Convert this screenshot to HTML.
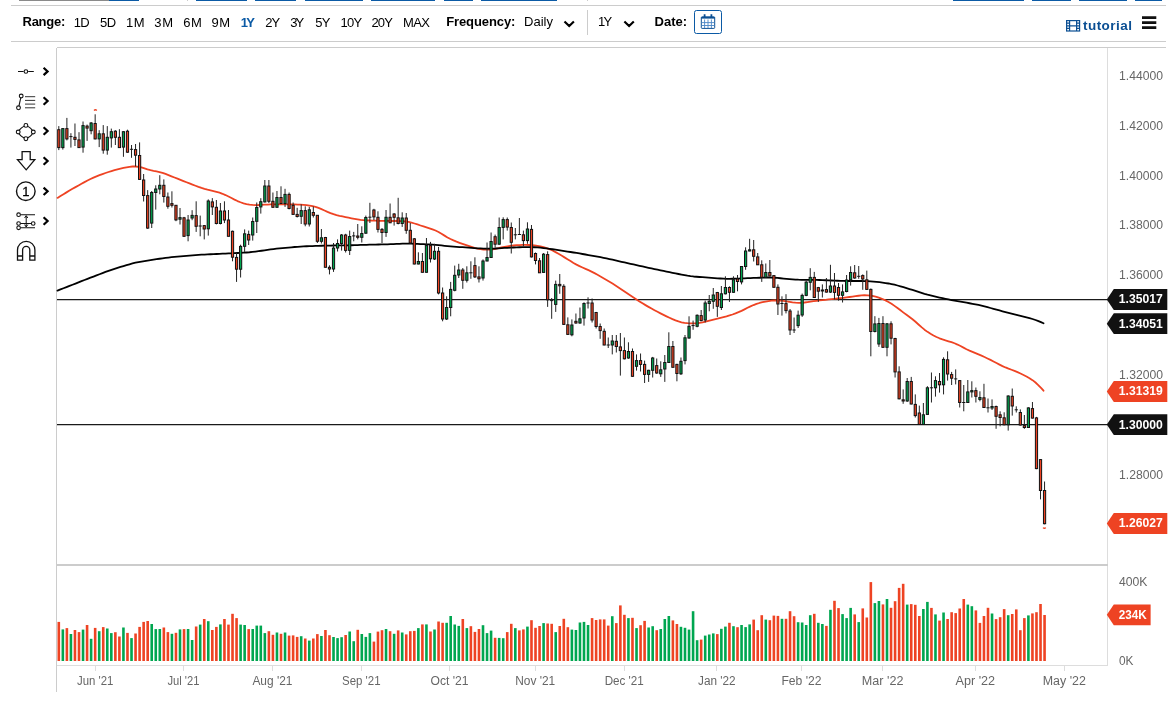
<!DOCTYPE html>
<html lang="en"><head><meta charset="utf-8"><title>Chart</title>
<style>
html,body{margin:0;padding:0;background:#fff;}
body{width:1176px;height:704px;position:relative;overflow:hidden;font-family:"Liberation Sans",sans-serif;font-size:13px;color:#000;}
.t{position:absolute;top:14px;line-height:16px;white-space:nowrap;}
.b{font-weight:bold;}
.s{position:absolute;top:0;height:1px;}
.hl{position:absolute;height:1px;background:#ccc;left:11px;width:1155px;}
</style></head><body>
<div class="s" style="left:19px;width:90px;background:#8a8a8a"></div><div class="s" style="left:109px;width:30px;background:#0b5aa5"></div>
<div class="s" style="left:196px;width:51px;background:#0b5aa5"></div>
<div class="s" style="left:255px;width:41px;background:#0b5aa5"></div>
<div class="s" style="left:305px;width:58px;background:#0b5aa5"></div>
<div class="s" style="left:371px;width:64px;background:#0b5aa5"></div>
<div class="s" style="left:444px;width:29px;background:#0b5aa5"></div>
<div class="s" style="left:481px;width:76px;background:#0b5aa5"></div>
<div class="s" style="left:953px;width:71px;background:#0b5aa5"></div>
<div class="s" style="left:1032px;width:39px;background:#0b5aa5"></div>
<div class="s" style="left:1079px;width:48px;background:#0b5aa5"></div>
<div class="s" style="left:1135px;width:27px;background:#0b5aa5"></div>
<div class="hl" style="top:5px"></div><div class="hl" style="top:41px"></div>
<span class="t b" style="left:22.5px;top:14px;letter-spacing:-0.25px;">Range:</span>
<span class="t" style="left:73.8px;top:15px;letter-spacing:-0.7px;">1D</span>
<span class="t" style="left:100px;top:15px;letter-spacing:-0.6px;">5D</span>
<span class="t" style="left:126px;top:15px;letter-spacing:0.5px;">1M</span>
<span class="t" style="left:154.3px;top:15px;letter-spacing:0.6px;">3M</span>
<span class="t" style="left:183.2px;top:15px;letter-spacing:0.5px;">6M</span>
<span class="t" style="left:211.4px;top:15px;letter-spacing:0.6px;">9M</span>
<span class="t b" style="left:240.8px;top:15px;letter-spacing:-1.7px;color:#0b5aa5;">1Y</span>
<span class="t" style="left:265.3px;top:15px;letter-spacing:-1.0px;">2Y</span>
<span class="t" style="left:290.3px;top:15px;letter-spacing:-2.0px;">3Y</span>
<span class="t" style="left:315.3px;top:15px;letter-spacing:-0.85px;">5Y</span>
<span class="t" style="left:340.5px;top:15px;letter-spacing:-0.77px;">10Y</span>
<span class="t" style="left:371.4px;top:15px;letter-spacing:-0.85px;">20Y</span>
<span class="t" style="left:403px;top:15px;letter-spacing:-0.68px;">MAX</span>
<span class="t b" style="left:446.2px;top:14px;letter-spacing:-0.1px;">Frequency:</span>
<span class="t" style="left:524.1px;top:14px;">Daily</span>
<span class="t" style="left:597.9px;top:14px;letter-spacing:-1.6px;">1Y</span>
<span class="t b" style="left:654.6px;top:14px;">Date:</span>
<span class="t b" style="left:1083px;top:18px;color:#0b4f93;font-size:13.5px;letter-spacing:0.45px">tutorial</span>
<svg width="1176" height="44" viewBox="0 0 1176 44" style="position:absolute;left:0;top:0">
<path d="M587.5,10 V35 M587.5,0 V1 M187.5,0 V1" stroke="#ccc" stroke-width="1" shape-rendering="crispEdges"/>
<path d="M564.5,21.5 L569.2,26 L573.9,21.5 M624.4,21.5 L629.1,26 L633.8,21.5" fill="none" stroke="#000" stroke-width="2.2"/>
<rect x="694.5" y="10.5" width="27" height="23" rx="2" fill="#fff" stroke="#0b5aa5" stroke-width="1"/>
<g stroke="#0b4f93" fill="none" stroke-width="1"><rect x="701.3" y="16.8" width="13.4" height="11.6" rx="0.8"/><path d="M701.3,17.8 H714.7" stroke-width="1.6"/><path d="M704.6,19.5 V28 M708,19.5 V28 M711.4,19.5 V28 M701.5,22.6 H714.5 M701.5,25.5 H714.5" stroke="#4a86c5" stroke-width="0.9"/><path d="M704.6,14.3 V17.3 M711.4,14.3 V17.3" stroke-width="1.8"/></g>
<g stroke="#0b4f93" fill="none" stroke-width="1.2"><rect x="1066.6" y="20.6" width="13" height="10.4"/><path d="M1069.6,20.6 V31 M1076.6,20.6 V31 M1069.6,25.8 H1076.6 M1066.6,23.2 H1069.6 M1066.6,25.8 H1069.6 M1066.6,28.4 H1069.6 M1076.6,23.2 H1079.6 M1076.6,25.8 H1079.6 M1076.6,28.4 H1079.6"/></g>
<path d="M1142,17.6 H1156.3 M1142,22.6 H1156.3 M1142,27.6 H1156.3" stroke="#111" stroke-width="2.6"/>
</svg>
<svg width="1176" height="704" viewBox="0 0 1176 704" style="position:absolute;left:0;top:0">
<g fill="none" stroke="#cccccc" stroke-width="1" shape-rendering="crispEdges">
<path d="M56.5,47.5 H1166"/>
<path d="M1107.5,48 V666" stroke="#dddddd"/>
<path d="M56.5,47.5 V692"/>
<path d="M56,565 H1108" stroke-width="2"/>
<path d="M57,665.5 H1108" stroke="#dddddd"/>
<path d="M95.5,666 V670.5" stroke="#dddddd"/>
<path d="M183.5,666 V670.5" stroke="#dddddd"/>
<path d="M272.5,666 V670.5" stroke="#dddddd"/>
<path d="M361.5,666 V670.5" stroke="#dddddd"/>
<path d="M449.5,666 V670.5" stroke="#dddddd"/>
<path d="M535.5,666 V670.5" stroke="#dddddd"/>
<path d="M624.5,666 V670.5" stroke="#dddddd"/>
<path d="M716.5,666 V670.5" stroke="#dddddd"/>
<path d="M801.5,666 V670.5" stroke="#dddddd"/>
<path d="M882.5,666 V670.5" stroke="#dddddd"/>
<path d="M975.5,666 V670.5" stroke="#dddddd"/>
<path d="M1064.5,666 V670.5" stroke="#dddddd"/>
</g>
<g>
<rect x="57.50" y="621.9" width="2.6" height="39.1" fill="#ee4323"/>
<rect x="61.54" y="629.4" width="2.6" height="31.6" fill="#00a650"/>
<rect x="65.58" y="628.1" width="2.6" height="32.9" fill="#ee4323"/>
<rect x="69.62" y="634.0" width="2.6" height="27.0" fill="#00a650"/>
<rect x="73.66" y="630.0" width="2.6" height="31.0" fill="#ee4323"/>
<rect x="77.70" y="632.1" width="2.6" height="28.9" fill="#ee4323"/>
<rect x="81.74" y="629.6" width="2.6" height="31.4" fill="#00a650"/>
<rect x="85.78" y="625.0" width="2.6" height="36.0" fill="#ee4323"/>
<rect x="89.82" y="638.8" width="2.6" height="22.2" fill="#00a650"/>
<rect x="93.86" y="627.9" width="2.6" height="33.1" fill="#ee4323"/>
<rect x="97.90" y="631.2" width="2.6" height="29.8" fill="#00a650"/>
<rect x="101.94" y="627.1" width="2.6" height="33.9" fill="#ee4323"/>
<rect x="105.98" y="628.5" width="2.6" height="32.5" fill="#00a650"/>
<rect x="110.02" y="633.1" width="2.6" height="27.9" fill="#00a650"/>
<rect x="114.06" y="632.2" width="2.6" height="28.8" fill="#ee4323"/>
<rect x="118.10" y="636.5" width="2.6" height="24.5" fill="#ee4323"/>
<rect x="122.14" y="627.5" width="2.6" height="33.5" fill="#00a650"/>
<rect x="126.18" y="632.9" width="2.6" height="28.1" fill="#ee4323"/>
<rect x="130.22" y="638.1" width="2.6" height="22.9" fill="#00a650"/>
<rect x="134.26" y="633.5" width="2.6" height="27.5" fill="#ee4323"/>
<rect x="138.30" y="626.9" width="2.6" height="34.1" fill="#ee4323"/>
<rect x="142.34" y="621.9" width="2.6" height="39.1" fill="#ee4323"/>
<rect x="146.38" y="621.0" width="2.6" height="40.0" fill="#ee4323"/>
<rect x="150.42" y="624.0" width="2.6" height="37.0" fill="#00a650"/>
<rect x="154.46" y="629.1" width="2.6" height="31.9" fill="#00a650"/>
<rect x="158.50" y="629.0" width="2.6" height="32.0" fill="#00a650"/>
<rect x="162.54" y="627.5" width="2.6" height="33.5" fill="#ee4323"/>
<rect x="166.58" y="632.1" width="2.6" height="28.9" fill="#ee4323"/>
<rect x="170.62" y="633.8" width="2.6" height="27.2" fill="#00a650"/>
<rect x="174.66" y="632.8" width="2.6" height="28.2" fill="#ee4323"/>
<rect x="178.70" y="629.4" width="2.6" height="31.6" fill="#00a650"/>
<rect x="182.74" y="629.1" width="2.6" height="31.9" fill="#ee4323"/>
<rect x="186.78" y="629.0" width="2.6" height="32.0" fill="#00a650"/>
<rect x="190.82" y="640.0" width="2.6" height="21.0" fill="#00a650"/>
<rect x="194.86" y="626.5" width="2.6" height="34.5" fill="#ee4323"/>
<rect x="198.90" y="624.6" width="2.6" height="36.4" fill="#00a650"/>
<rect x="202.94" y="619.0" width="2.6" height="42.0" fill="#ee4323"/>
<rect x="206.98" y="621.2" width="2.6" height="39.8" fill="#00a650"/>
<rect x="211.02" y="630.0" width="2.6" height="31.0" fill="#ee4323"/>
<rect x="215.06" y="626.9" width="2.6" height="34.1" fill="#ee4323"/>
<rect x="219.10" y="624.4" width="2.6" height="36.6" fill="#00a650"/>
<rect x="223.14" y="619.0" width="2.6" height="42.0" fill="#ee4323"/>
<rect x="227.18" y="624.6" width="2.6" height="36.4" fill="#ee4323"/>
<rect x="231.22" y="613.8" width="2.6" height="47.2" fill="#ee4323"/>
<rect x="235.26" y="618.1" width="2.6" height="42.9" fill="#ee4323"/>
<rect x="239.30" y="624.6" width="2.6" height="36.4" fill="#00a650"/>
<rect x="243.34" y="625.0" width="2.6" height="36.0" fill="#00a650"/>
<rect x="247.38" y="629.1" width="2.6" height="31.9" fill="#ee4323"/>
<rect x="251.42" y="629.0" width="2.6" height="32.0" fill="#00a650"/>
<rect x="255.46" y="625.6" width="2.6" height="35.4" fill="#00a650"/>
<rect x="259.50" y="625.6" width="2.6" height="35.4" fill="#00a650"/>
<rect x="263.54" y="633.1" width="2.6" height="27.9" fill="#00a650"/>
<rect x="267.58" y="631.2" width="2.6" height="29.8" fill="#ee4323"/>
<rect x="271.62" y="634.8" width="2.6" height="26.2" fill="#ee4323"/>
<rect x="275.66" y="632.5" width="2.6" height="28.5" fill="#00a650"/>
<rect x="279.70" y="633.8" width="2.6" height="27.2" fill="#ee4323"/>
<rect x="283.74" y="632.5" width="2.6" height="28.5" fill="#00a650"/>
<rect x="287.78" y="635.6" width="2.6" height="25.4" fill="#ee4323"/>
<rect x="291.82" y="635.4" width="2.6" height="25.6" fill="#ee4323"/>
<rect x="295.86" y="636.9" width="2.6" height="24.1" fill="#ee4323"/>
<rect x="299.90" y="636.2" width="2.6" height="24.8" fill="#00a650"/>
<rect x="303.94" y="638.5" width="2.6" height="22.5" fill="#ee4323"/>
<rect x="307.98" y="640.6" width="2.6" height="20.4" fill="#00a650"/>
<rect x="312.02" y="638.5" width="2.6" height="22.5" fill="#ee4323"/>
<rect x="316.06" y="634.1" width="2.6" height="26.9" fill="#ee4323"/>
<rect x="320.10" y="636.0" width="2.6" height="25.0" fill="#00a650"/>
<rect x="324.14" y="630.0" width="2.6" height="31.0" fill="#ee4323"/>
<rect x="328.18" y="635.2" width="2.6" height="25.8" fill="#ee4323"/>
<rect x="332.22" y="637.0" width="2.6" height="24.0" fill="#00a650"/>
<rect x="336.26" y="638.1" width="2.6" height="22.9" fill="#00a650"/>
<rect x="340.30" y="637.2" width="2.6" height="23.8" fill="#00a650"/>
<rect x="344.34" y="635.0" width="2.6" height="26.0" fill="#ee4323"/>
<rect x="348.38" y="631.5" width="2.6" height="29.5" fill="#00a650"/>
<rect x="352.42" y="641.2" width="2.6" height="19.8" fill="#00a650"/>
<rect x="356.46" y="629.8" width="2.6" height="31.2" fill="#ee4323"/>
<rect x="360.50" y="634.0" width="2.6" height="27.0" fill="#00a650"/>
<rect x="364.54" y="636.9" width="2.6" height="24.1" fill="#00a650"/>
<rect x="368.58" y="633.1" width="2.6" height="27.9" fill="#00a650"/>
<rect x="372.62" y="641.6" width="2.6" height="19.4" fill="#ee4323"/>
<rect x="376.66" y="631.6" width="2.6" height="29.4" fill="#ee4323"/>
<rect x="380.70" y="630.2" width="2.6" height="30.8" fill="#ee4323"/>
<rect x="384.74" y="629.0" width="2.6" height="32.0" fill="#00a650"/>
<rect x="388.78" y="631.2" width="2.6" height="29.8" fill="#ee4323"/>
<rect x="392.82" y="633.8" width="2.6" height="27.2" fill="#00a650"/>
<rect x="396.86" y="630.4" width="2.6" height="30.6" fill="#ee4323"/>
<rect x="400.90" y="632.5" width="2.6" height="28.5" fill="#00a650"/>
<rect x="404.94" y="634.4" width="2.6" height="26.6" fill="#ee4323"/>
<rect x="408.98" y="631.2" width="2.6" height="29.8" fill="#ee4323"/>
<rect x="413.02" y="630.9" width="2.6" height="30.1" fill="#ee4323"/>
<rect x="417.06" y="628.1" width="2.6" height="32.9" fill="#00a650"/>
<rect x="421.10" y="624.4" width="2.6" height="36.6" fill="#ee4323"/>
<rect x="425.14" y="624.4" width="2.6" height="36.6" fill="#00a650"/>
<rect x="429.18" y="631.5" width="2.6" height="29.5" fill="#ee4323"/>
<rect x="433.22" y="629.5" width="2.6" height="31.5" fill="#00a650"/>
<rect x="437.26" y="621.5" width="2.6" height="39.5" fill="#ee4323"/>
<rect x="441.30" y="622.8" width="2.6" height="38.2" fill="#ee4323"/>
<rect x="445.34" y="622.8" width="2.6" height="38.2" fill="#00a650"/>
<rect x="449.38" y="616.0" width="2.6" height="45.0" fill="#00a650"/>
<rect x="453.42" y="624.5" width="2.6" height="36.5" fill="#00a650"/>
<rect x="457.46" y="625.9" width="2.6" height="35.1" fill="#00a650"/>
<rect x="461.50" y="619.0" width="2.6" height="42.0" fill="#ee4323"/>
<rect x="465.54" y="628.1" width="2.6" height="32.9" fill="#00a650"/>
<rect x="469.58" y="626.2" width="2.6" height="34.8" fill="#ee4323"/>
<rect x="473.62" y="631.9" width="2.6" height="29.1" fill="#ee4323"/>
<rect x="477.66" y="629.0" width="2.6" height="32.0" fill="#ee4323"/>
<rect x="481.70" y="625.2" width="2.6" height="35.8" fill="#00a650"/>
<rect x="485.74" y="633.1" width="2.6" height="27.9" fill="#00a650"/>
<rect x="489.78" y="630.6" width="2.6" height="30.4" fill="#00a650"/>
<rect x="493.82" y="637.8" width="2.6" height="23.2" fill="#ee4323"/>
<rect x="497.86" y="637.9" width="2.6" height="23.1" fill="#00a650"/>
<rect x="501.90" y="638.2" width="2.6" height="22.8" fill="#00a650"/>
<rect x="505.94" y="632.1" width="2.6" height="28.9" fill="#ee4323"/>
<rect x="509.98" y="623.8" width="2.6" height="37.2" fill="#ee4323"/>
<rect x="514.02" y="628.1" width="2.6" height="32.9" fill="#00a650"/>
<rect x="518.06" y="630.4" width="2.6" height="30.6" fill="#ee4323"/>
<rect x="522.10" y="629.4" width="2.6" height="31.6" fill="#ee4323"/>
<rect x="526.14" y="626.6" width="2.6" height="34.4" fill="#00a650"/>
<rect x="530.18" y="620.2" width="2.6" height="40.8" fill="#ee4323"/>
<rect x="534.22" y="627.8" width="2.6" height="33.2" fill="#ee4323"/>
<rect x="538.26" y="626.0" width="2.6" height="35.0" fill="#ee4323"/>
<rect x="542.30" y="623.1" width="2.6" height="37.9" fill="#00a650"/>
<rect x="546.34" y="623.5" width="2.6" height="37.5" fill="#ee4323"/>
<rect x="550.38" y="623.8" width="2.6" height="37.2" fill="#ee4323"/>
<rect x="554.42" y="632.1" width="2.6" height="28.9" fill="#00a650"/>
<rect x="558.46" y="626.0" width="2.6" height="35.0" fill="#ee4323"/>
<rect x="562.50" y="618.8" width="2.6" height="42.2" fill="#ee4323"/>
<rect x="566.54" y="627.2" width="2.6" height="33.8" fill="#ee4323"/>
<rect x="570.58" y="629.6" width="2.6" height="31.4" fill="#00a650"/>
<rect x="574.62" y="630.0" width="2.6" height="31.0" fill="#00a650"/>
<rect x="578.66" y="622.5" width="2.6" height="38.5" fill="#00a650"/>
<rect x="582.70" y="621.9" width="2.6" height="39.1" fill="#00a650"/>
<rect x="586.74" y="625.0" width="2.6" height="36.0" fill="#00a650"/>
<rect x="590.78" y="618.1" width="2.6" height="42.9" fill="#ee4323"/>
<rect x="594.82" y="620.0" width="2.6" height="41.0" fill="#ee4323"/>
<rect x="598.86" y="619.4" width="2.6" height="41.6" fill="#ee4323"/>
<rect x="602.90" y="619.4" width="2.6" height="41.6" fill="#ee4323"/>
<rect x="606.94" y="625.6" width="2.6" height="35.4" fill="#ee4323"/>
<rect x="610.98" y="616.2" width="2.6" height="44.8" fill="#00a650"/>
<rect x="615.02" y="623.1" width="2.6" height="37.9" fill="#ee4323"/>
<rect x="619.06" y="605.4" width="2.6" height="55.6" fill="#ee4323"/>
<rect x="623.10" y="614.8" width="2.6" height="46.2" fill="#ee4323"/>
<rect x="627.14" y="618.1" width="2.6" height="42.9" fill="#00a650"/>
<rect x="631.18" y="617.8" width="2.6" height="43.2" fill="#ee4323"/>
<rect x="635.22" y="628.1" width="2.6" height="32.9" fill="#00a650"/>
<rect x="639.26" y="625.2" width="2.6" height="35.8" fill="#ee4323"/>
<rect x="643.30" y="620.9" width="2.6" height="40.1" fill="#ee4323"/>
<rect x="647.34" y="627.5" width="2.6" height="33.5" fill="#00a650"/>
<rect x="651.38" y="626.2" width="2.6" height="34.8" fill="#00a650"/>
<rect x="655.42" y="630.2" width="2.6" height="30.8" fill="#ee4323"/>
<rect x="659.46" y="629.0" width="2.6" height="32.0" fill="#00a650"/>
<rect x="663.50" y="619.0" width="2.6" height="42.0" fill="#00a650"/>
<rect x="667.54" y="616.0" width="2.6" height="45.0" fill="#00a650"/>
<rect x="671.58" y="620.4" width="2.6" height="40.6" fill="#ee4323"/>
<rect x="675.62" y="624.0" width="2.6" height="37.0" fill="#ee4323"/>
<rect x="679.66" y="626.8" width="2.6" height="34.2" fill="#00a650"/>
<rect x="683.70" y="627.8" width="2.6" height="33.2" fill="#00a650"/>
<rect x="687.74" y="629.6" width="2.6" height="31.4" fill="#00a650"/>
<rect x="691.78" y="611.2" width="2.6" height="49.8" fill="#00a650"/>
<rect x="695.82" y="640.2" width="2.6" height="20.8" fill="#00a650"/>
<rect x="699.86" y="639.6" width="2.6" height="21.4" fill="#ee4323"/>
<rect x="703.90" y="635.6" width="2.6" height="25.4" fill="#00a650"/>
<rect x="707.94" y="634.5" width="2.6" height="26.5" fill="#00a650"/>
<rect x="711.98" y="633.4" width="2.6" height="27.6" fill="#00a650"/>
<rect x="716.02" y="634.1" width="2.6" height="26.9" fill="#ee4323"/>
<rect x="720.06" y="628.8" width="2.6" height="32.2" fill="#00a650"/>
<rect x="724.10" y="626.6" width="2.6" height="34.4" fill="#00a650"/>
<rect x="728.14" y="622.8" width="2.6" height="38.2" fill="#ee4323"/>
<rect x="732.18" y="626.2" width="2.6" height="34.8" fill="#00a650"/>
<rect x="736.22" y="627.2" width="2.6" height="33.8" fill="#ee4323"/>
<rect x="740.26" y="625.0" width="2.6" height="36.0" fill="#00a650"/>
<rect x="744.30" y="627.1" width="2.6" height="33.9" fill="#00a650"/>
<rect x="748.34" y="624.4" width="2.6" height="36.6" fill="#00a650"/>
<rect x="752.38" y="619.6" width="2.6" height="41.4" fill="#ee4323"/>
<rect x="756.42" y="630.2" width="2.6" height="30.8" fill="#ee4323"/>
<rect x="760.46" y="615.2" width="2.6" height="45.8" fill="#ee4323"/>
<rect x="764.50" y="619.6" width="2.6" height="41.4" fill="#00a650"/>
<rect x="768.54" y="620.2" width="2.6" height="40.8" fill="#ee4323"/>
<rect x="772.58" y="615.6" width="2.6" height="45.4" fill="#ee4323"/>
<rect x="776.62" y="615.9" width="2.6" height="45.1" fill="#ee4323"/>
<rect x="780.66" y="618.8" width="2.6" height="42.2" fill="#00a650"/>
<rect x="784.70" y="618.8" width="2.6" height="42.2" fill="#ee4323"/>
<rect x="788.74" y="611.2" width="2.6" height="49.8" fill="#ee4323"/>
<rect x="792.78" y="616.2" width="2.6" height="44.8" fill="#ee4323"/>
<rect x="796.82" y="622.2" width="2.6" height="38.8" fill="#00a650"/>
<rect x="800.86" y="622.5" width="2.6" height="38.5" fill="#00a650"/>
<rect x="804.90" y="625.0" width="2.6" height="36.0" fill="#00a650"/>
<rect x="808.94" y="615.2" width="2.6" height="45.8" fill="#00a650"/>
<rect x="812.98" y="613.8" width="2.6" height="47.2" fill="#ee4323"/>
<rect x="817.02" y="622.8" width="2.6" height="38.2" fill="#00a650"/>
<rect x="821.06" y="624.0" width="2.6" height="37.0" fill="#00a650"/>
<rect x="825.10" y="625.9" width="2.6" height="35.1" fill="#ee4323"/>
<rect x="829.14" y="609.8" width="2.6" height="51.2" fill="#00a650"/>
<rect x="833.18" y="600.8" width="2.6" height="60.2" fill="#ee4323"/>
<rect x="837.22" y="608.1" width="2.6" height="52.9" fill="#ee4323"/>
<rect x="841.26" y="614.1" width="2.6" height="46.9" fill="#00a650"/>
<rect x="845.30" y="618.1" width="2.6" height="42.9" fill="#00a650"/>
<rect x="849.34" y="607.9" width="2.6" height="53.1" fill="#00a650"/>
<rect x="853.38" y="614.4" width="2.6" height="46.6" fill="#ee4323"/>
<rect x="857.42" y="622.1" width="2.6" height="38.9" fill="#00a650"/>
<rect x="861.46" y="608.4" width="2.6" height="52.6" fill="#ee4323"/>
<rect x="865.50" y="617.5" width="2.6" height="43.5" fill="#ee4323"/>
<rect x="869.54" y="582.1" width="2.6" height="78.9" fill="#ee4323"/>
<rect x="873.58" y="603.1" width="2.6" height="57.9" fill="#00a650"/>
<rect x="877.62" y="601.0" width="2.6" height="60.0" fill="#00a650"/>
<rect x="881.66" y="604.4" width="2.6" height="56.6" fill="#ee4323"/>
<rect x="885.70" y="599.0" width="2.6" height="62.0" fill="#00a650"/>
<rect x="889.74" y="607.8" width="2.6" height="53.2" fill="#ee4323"/>
<rect x="893.78" y="601.2" width="2.6" height="59.8" fill="#ee4323"/>
<rect x="897.82" y="587.9" width="2.6" height="73.1" fill="#ee4323"/>
<rect x="901.86" y="583.8" width="2.6" height="77.2" fill="#ee4323"/>
<rect x="905.90" y="604.6" width="2.6" height="56.4" fill="#00a650"/>
<rect x="909.94" y="604.1" width="2.6" height="56.9" fill="#ee4323"/>
<rect x="913.98" y="604.8" width="2.6" height="56.2" fill="#ee4323"/>
<rect x="918.02" y="616.0" width="2.6" height="45.0" fill="#ee4323"/>
<rect x="922.06" y="609.0" width="2.6" height="52.0" fill="#00a650"/>
<rect x="926.10" y="601.9" width="2.6" height="59.1" fill="#00a650"/>
<rect x="930.14" y="607.9" width="2.6" height="53.1" fill="#ee4323"/>
<rect x="934.18" y="614.4" width="2.6" height="46.6" fill="#00a650"/>
<rect x="938.22" y="620.6" width="2.6" height="40.4" fill="#ee4323"/>
<rect x="942.26" y="612.5" width="2.6" height="48.5" fill="#00a650"/>
<rect x="946.30" y="619.0" width="2.6" height="42.0" fill="#ee4323"/>
<rect x="950.34" y="612.2" width="2.6" height="48.8" fill="#ee4323"/>
<rect x="954.38" y="613.1" width="2.6" height="47.9" fill="#ee4323"/>
<rect x="958.42" y="608.5" width="2.6" height="52.5" fill="#ee4323"/>
<rect x="962.46" y="599.0" width="2.6" height="62.0" fill="#ee4323"/>
<rect x="966.50" y="604.6" width="2.6" height="56.4" fill="#00a650"/>
<rect x="970.54" y="606.2" width="2.6" height="54.8" fill="#00a650"/>
<rect x="974.58" y="610.4" width="2.6" height="50.6" fill="#ee4323"/>
<rect x="978.62" y="622.9" width="2.6" height="38.1" fill="#ee4323"/>
<rect x="982.66" y="616.0" width="2.6" height="45.0" fill="#ee4323"/>
<rect x="986.70" y="607.8" width="2.6" height="53.2" fill="#ee4323"/>
<rect x="990.74" y="613.5" width="2.6" height="47.5" fill="#00a650"/>
<rect x="994.78" y="619.1" width="2.6" height="41.9" fill="#ee4323"/>
<rect x="998.82" y="617.2" width="2.6" height="43.8" fill="#ee4323"/>
<rect x="1002.86" y="609.1" width="2.6" height="51.9" fill="#ee4323"/>
<rect x="1006.90" y="615.2" width="2.6" height="45.8" fill="#00a650"/>
<rect x="1010.94" y="614.0" width="2.6" height="47.0" fill="#ee4323"/>
<rect x="1014.98" y="609.4" width="2.6" height="51.6" fill="#ee4323"/>
<rect x="1019.02" y="630.2" width="2.6" height="30.8" fill="#ee4323"/>
<rect x="1023.06" y="618.1" width="2.6" height="42.9" fill="#ee4323"/>
<rect x="1027.10" y="615.4" width="2.6" height="45.6" fill="#00a650"/>
<rect x="1031.14" y="613.4" width="2.6" height="47.6" fill="#ee4323"/>
<rect x="1035.18" y="612.2" width="2.6" height="48.8" fill="#ee4323"/>
<rect x="1039.22" y="604.0" width="2.6" height="57.0" fill="#ee4323"/>
<rect x="1043.26" y="615.0" width="2.6" height="46.0" fill="#ee4323"/>
</g>
<g stroke="#1a1a1a" stroke-width="1.25">
<path d="M57,299.65 H1110"/>
<path d="M57,424.7 H1110"/>
</g>
<path d="M57.5,197.90 L60.5,196.05 L63.5,194.21 L66.5,192.38 L69.5,190.58 L72.5,188.83 L75.5,187.12 L78.5,185.45 L81.5,183.80 L84.5,182.15 L87.5,180.55 L90.5,179.03 L93.5,177.63 L96.5,176.36 L99.5,175.18 L102.5,174.07 L105.5,173.00 L108.5,171.98 L111.5,171.02 L114.5,170.14 L117.5,169.32 L120.5,168.58 L123.5,167.90 L126.5,167.31 L129.5,166.83 L132.5,166.52 L135.5,166.48 L138.5,166.79 L141.5,167.44 L144.5,168.34 L147.5,169.29 L150.5,170.12 L153.5,170.81 L156.5,171.42 L159.5,172.09 L162.5,172.94 L165.5,173.96 L168.5,175.10 L171.5,176.29 L174.5,177.48 L177.5,178.67 L180.5,179.86 L183.5,181.05 L186.5,182.23 L189.5,183.41 L192.5,184.58 L195.5,185.74 L198.5,186.86 L201.5,187.90 L204.5,188.83 L207.5,189.64 L210.5,190.37 L213.5,191.08 L216.5,191.84 L219.5,192.72 L222.5,193.78 L225.5,195.05 L228.5,196.50 L231.5,198.06 L234.5,199.61 L237.5,201.05 L240.5,202.27 L243.5,203.28 L246.5,204.06 L249.5,204.61 L252.5,204.94 L255.5,205.04 L258.5,204.99 L261.5,204.85 L264.5,204.69 L267.5,204.56 L270.5,204.47 L273.5,204.42 L276.5,204.40 L279.5,204.40 L282.5,204.40 L285.5,204.41 L288.5,204.42 L291.5,204.44 L294.5,204.47 L297.5,204.55 L300.5,204.67 L303.5,204.86 L306.5,205.13 L309.5,205.52 L312.5,206.09 L315.5,206.88 L318.5,207.89 L321.5,209.10 L324.5,210.45 L327.5,211.81 L330.5,213.08 L333.5,214.16 L336.5,215.05 L339.5,215.80 L342.5,216.46 L345.5,217.08 L348.5,217.68 L351.5,218.26 L354.5,218.82 L357.5,219.33 L360.5,219.78 L363.5,220.12 L366.5,220.36 L369.5,220.51 L372.5,220.61 L375.5,220.71 L378.5,220.80 L381.5,220.87 L384.5,220.94 L387.5,220.97 L390.5,220.99 L393.5,221.00 L396.5,221.02 L399.5,221.07 L402.5,221.21 L405.5,221.48 L408.5,221.95 L411.5,222.64 L414.5,223.50 L417.5,224.47 L420.5,225.48 L423.5,226.45 L426.5,227.38 L429.5,228.31 L432.5,229.32 L435.5,230.53 L438.5,232.02 L441.5,233.76 L444.5,235.63 L447.5,237.43 L450.5,239.03 L453.5,240.43 L456.5,241.66 L459.5,242.80 L462.5,243.89 L465.5,244.93 L468.5,245.94 L471.5,246.91 L474.5,247.82 L477.5,248.61 L480.5,249.22 L483.5,249.58 L486.5,249.70 L489.5,249.58 L492.5,249.27 L495.5,248.79 L498.5,248.17 L501.5,247.50 L504.5,246.85 L507.5,246.29 L510.5,245.83 L513.5,245.48 L516.5,245.22 L519.5,245.04 L522.5,244.94 L525.5,244.93 L528.5,245.00 L531.5,245.16 L534.5,245.43 L537.5,245.83 L540.5,246.37 L543.5,247.10 L546.5,248.04 L549.5,249.19 L552.5,250.55 L555.5,252.09 L558.5,253.77 L561.5,255.53 L564.5,257.36 L567.5,259.23 L570.5,261.10 L573.5,262.92 L576.5,264.63 L579.5,266.16 L582.5,267.54 L585.5,268.85 L588.5,270.18 L591.5,271.61 L594.5,273.14 L597.5,274.76 L600.5,276.44 L603.5,278.17 L606.5,279.92 L609.5,281.72 L612.5,283.58 L615.5,285.49 L618.5,287.48 L621.5,289.51 L624.5,291.56 L627.5,293.59 L630.5,295.61 L633.5,297.59 L636.5,299.55 L639.5,301.47 L642.5,303.34 L645.5,305.14 L648.5,306.89 L651.5,308.57 L654.5,310.21 L657.5,311.81 L660.5,313.35 L663.5,314.86 L666.5,316.32 L669.5,317.74 L672.5,319.10 L675.5,320.36 L678.5,321.43 L681.5,322.26 L684.5,322.83 L687.5,323.18 L690.5,323.34 L693.5,323.36 L696.5,323.24 L699.5,322.93 L702.5,322.42 L705.5,321.71 L708.5,320.90 L711.5,320.09 L714.5,319.32 L717.5,318.60 L720.5,317.90 L723.5,317.16 L726.5,316.36 L729.5,315.47 L732.5,314.49 L735.5,313.40 L738.5,312.19 L741.5,310.84 L744.5,309.35 L747.5,307.82 L750.5,306.36 L753.5,305.05 L756.5,303.94 L759.5,302.99 L762.5,302.20 L765.5,301.55 L768.5,301.05 L771.5,300.69 L774.5,300.49 L777.5,300.47 L780.5,300.63 L783.5,300.96 L786.5,301.40 L789.5,301.89 L792.5,302.36 L795.5,302.72 L798.5,302.87 L801.5,302.78 L804.5,302.49 L807.5,302.09 L810.5,301.65 L813.5,301.22 L816.5,300.81 L819.5,300.44 L822.5,300.09 L825.5,299.77 L828.5,299.46 L831.5,299.14 L834.5,298.83 L837.5,298.51 L840.5,298.17 L843.5,297.80 L846.5,297.41 L849.5,296.99 L852.5,296.56 L855.5,296.14 L858.5,295.74 L861.5,295.42 L864.5,295.25 L867.5,295.31 L870.5,295.61 L873.5,296.16 L876.5,296.93 L879.5,297.90 L882.5,299.05 L885.5,300.40 L888.5,301.98 L891.5,303.81 L894.5,305.87 L897.5,308.07 L900.5,310.34 L903.5,312.60 L906.5,314.80 L909.5,317.01 L912.5,319.30 L915.5,321.79 L918.5,324.47 L921.5,327.16 L924.5,329.66 L927.5,331.86 L930.5,333.76 L933.5,335.44 L936.5,336.96 L939.5,338.29 L942.5,339.43 L945.5,340.40 L948.5,341.28 L951.5,342.20 L954.5,343.26 L957.5,344.56 L960.5,346.06 L963.5,347.65 L966.5,349.20 L969.5,350.62 L972.5,351.92 L975.5,353.15 L978.5,354.40 L981.5,355.69 L984.5,357.04 L987.5,358.45 L990.5,359.91 L993.5,361.44 L996.5,363.02 L999.5,364.59 L1002.5,366.10 L1005.5,367.46 L1008.5,368.65 L1011.5,369.75 L1014.5,370.85 L1017.5,372.09 L1020.5,373.48 L1023.5,374.96 L1026.5,376.52 L1029.5,378.20 L1032.5,380.16 L1035.5,382.51 L1038.5,385.29 L1041.5,388.47 L1043.5,390.72" fill="none" stroke="#ee4323" stroke-width="1.8" stroke-linejoin="round" stroke-linecap="round"/>
<path d="M57.5,290.60 L60.5,289.42 L63.5,288.25 L66.5,287.07 L69.5,285.90 L72.5,284.72 L75.5,283.55 L78.5,282.37 L81.5,281.20 L84.5,280.03 L87.5,278.87 L90.5,277.70 L93.5,276.54 L96.5,275.38 L99.5,274.22 L102.5,273.06 L105.5,271.93 L108.5,270.84 L111.5,269.81 L114.5,268.83 L117.5,267.90 L120.5,266.98 L123.5,266.06 L126.5,265.15 L129.5,264.27 L132.5,263.44 L135.5,262.71 L138.5,262.09 L141.5,261.55 L144.5,261.07 L147.5,260.60 L150.5,260.14 L153.5,259.68 L156.5,259.22 L159.5,258.76 L162.5,258.32 L165.5,257.91 L168.5,257.55 L171.5,257.23 L174.5,256.95 L177.5,256.68 L180.5,256.42 L183.5,256.16 L186.5,255.89 L189.5,255.63 L192.5,255.37 L195.5,255.13 L198.5,254.91 L201.5,254.72 L204.5,254.55 L207.5,254.40 L210.5,254.26 L213.5,254.12 L216.5,253.98 L219.5,253.84 L222.5,253.70 L225.5,253.56 L228.5,253.42 L231.5,253.28 L234.5,253.13 L237.5,252.99 L240.5,252.85 L243.5,252.70 L246.5,252.51 L249.5,252.27 L252.5,251.96 L255.5,251.59 L258.5,251.17 L261.5,250.74 L264.5,250.31 L267.5,249.88 L270.5,249.47 L273.5,249.08 L276.5,248.72 L279.5,248.41 L282.5,248.11 L285.5,247.83 L288.5,247.56 L291.5,247.28 L294.5,247.02 L297.5,246.78 L300.5,246.57 L303.5,246.41 L306.5,246.27 L309.5,246.16 L312.5,246.05 L315.5,245.94 L318.5,245.84 L321.5,245.74 L324.5,245.66 L327.5,245.59 L330.5,245.54 L333.5,245.50 L336.5,245.46 L339.5,245.43 L342.5,245.39 L345.5,245.35 L348.5,245.29 L351.5,245.23 L354.5,245.15 L357.5,245.06 L360.5,244.97 L363.5,244.87 L366.5,244.78 L369.5,244.69 L372.5,244.62 L375.5,244.56 L378.5,244.50 L381.5,244.44 L384.5,244.37 L387.5,244.28 L390.5,244.17 L393.5,244.06 L396.5,243.94 L399.5,243.82 L402.5,243.72 L405.5,243.67 L408.5,243.66 L411.5,243.72 L414.5,243.83 L417.5,243.96 L420.5,244.09 L423.5,244.21 L426.5,244.33 L429.5,244.45 L432.5,244.61 L435.5,244.83 L438.5,245.13 L441.5,245.48 L444.5,245.85 L447.5,246.19 L450.5,246.47 L453.5,246.69 L456.5,246.87 L459.5,247.04 L462.5,247.22 L465.5,247.43 L468.5,247.65 L471.5,247.88 L474.5,248.10 L477.5,248.29 L480.5,248.45 L483.5,248.56 L486.5,248.62 L489.5,248.64 L492.5,248.61 L495.5,248.52 L498.5,248.36 L501.5,248.17 L504.5,247.97 L507.5,247.78 L510.5,247.63 L513.5,247.49 L516.5,247.36 L519.5,247.24 L522.5,247.14 L525.5,247.07 L528.5,247.07 L531.5,247.14 L534.5,247.26 L537.5,247.45 L540.5,247.71 L543.5,248.03 L546.5,248.40 L549.5,248.81 L552.5,249.24 L555.5,249.68 L558.5,250.14 L561.5,250.60 L564.5,251.07 L567.5,251.54 L570.5,252.01 L573.5,252.49 L576.5,252.97 L579.5,253.47 L582.5,253.99 L585.5,254.51 L588.5,255.04 L591.5,255.56 L594.5,256.09 L597.5,256.63 L600.5,257.20 L603.5,257.79 L606.5,258.42 L609.5,259.07 L612.5,259.74 L615.5,260.41 L618.5,261.08 L621.5,261.76 L624.5,262.43 L627.5,263.11 L630.5,263.80 L633.5,264.48 L636.5,265.16 L639.5,265.83 L642.5,266.49 L645.5,267.15 L648.5,267.80 L651.5,268.45 L654.5,269.10 L657.5,269.74 L660.5,270.37 L663.5,270.99 L666.5,271.60 L669.5,272.20 L672.5,272.80 L675.5,273.40 L678.5,274.00 L681.5,274.60 L684.5,275.17 L687.5,275.69 L690.5,276.13 L693.5,276.48 L696.5,276.75 L699.5,276.98 L702.5,277.20 L705.5,277.42 L708.5,277.63 L711.5,277.85 L714.5,278.06 L717.5,278.28 L720.5,278.49 L723.5,278.66 L726.5,278.78 L729.5,278.81 L732.5,278.77 L735.5,278.68 L738.5,278.56 L741.5,278.44 L744.5,278.32 L747.5,278.20 L750.5,278.08 L753.5,277.97 L756.5,277.85 L759.5,277.74 L762.5,277.62 L765.5,277.54 L768.5,277.51 L771.5,277.57 L774.5,277.73 L777.5,277.97 L780.5,278.25 L783.5,278.55 L786.5,278.85 L789.5,279.14 L792.5,279.39 L795.5,279.59 L798.5,279.72 L801.5,279.78 L804.5,279.80 L807.5,279.80 L810.5,279.82 L813.5,279.85 L816.5,279.92 L819.5,280.01 L822.5,280.13 L825.5,280.26 L828.5,280.39 L831.5,280.52 L834.5,280.65 L837.5,280.77 L840.5,280.87 L843.5,280.94 L846.5,280.98 L849.5,281.00 L852.5,281.00 L855.5,281.00 L858.5,281.00 L861.5,281.02 L864.5,281.07 L867.5,281.17 L870.5,281.35 L873.5,281.60 L876.5,281.89 L879.5,282.23 L882.5,282.60 L885.5,283.02 L888.5,283.49 L891.5,284.06 L894.5,284.73 L897.5,285.50 L900.5,286.34 L903.5,287.21 L906.5,288.10 L909.5,289.02 L912.5,289.96 L915.5,290.94 L918.5,291.93 L921.5,292.92 L924.5,293.86 L927.5,294.72 L930.5,295.49 L933.5,296.20 L936.5,296.86 L939.5,297.52 L942.5,298.17 L945.5,298.81 L948.5,299.43 L951.5,300.02 L954.5,300.58 L957.5,301.12 L960.5,301.66 L963.5,302.19 L966.5,302.72 L969.5,303.25 L972.5,303.78 L975.5,304.34 L978.5,304.95 L981.5,305.63 L984.5,306.38 L987.5,307.18 L990.5,308.00 L993.5,308.83 L996.5,309.66 L999.5,310.48 L1002.5,311.28 L1005.5,312.07 L1008.5,312.83 L1011.5,313.58 L1014.5,314.32 L1017.5,315.06 L1020.5,315.80 L1023.5,316.55 L1026.5,317.31 L1029.5,318.11 L1032.5,318.99 L1035.5,319.98 L1038.5,321.11 L1041.5,322.39 L1043.5,323.29" fill="none" stroke="#000" stroke-width="1.8" stroke-linejoin="round" stroke-linecap="round"/>
<g stroke="#111" stroke-width="1">
<path d="M58.80,126.1 V150.1" stroke="#222"/>
<rect x="57.70" y="129.7" width="2.2" height="17.9" fill="#ee4323"/>
<path d="M62.84,128.1 V149.6" stroke="#222"/>
<rect x="61.74" y="128.6" width="2.2" height="19.0" fill="#00a650"/>
<path d="M66.88,117.9 V140.4" stroke="#222"/>
<rect x="65.78" y="128.6" width="2.2" height="10.3" fill="#ee4323"/>
<path d="M70.92,133.2 V147.6" stroke="#222"/>
<path d="M69.32,136.6 H72.52"/>
<path d="M74.96,123.5 V146.0" stroke="#222"/>
<rect x="73.86" y="137.3" width="2.2" height="2.1" fill="#ee4323"/>
<path d="M79.00,132.2 V147.6" stroke="#222"/>
<rect x="77.90" y="139.9" width="2.2" height="7.7" fill="#ee4323"/>
<path d="M83.04,121.5 V152.7" stroke="#222"/>
<rect x="81.94" y="125.6" width="2.2" height="21.5" fill="#00a650"/>
<path d="M87.08,124.6 V140.9" stroke="#222"/>
<rect x="85.98" y="126.1" width="2.2" height="2.0" fill="#ee4323"/>
<path d="M91.12,122.0 V134.3" stroke="#222"/>
<rect x="90.02" y="123.0" width="2.2" height="7.7" fill="#00a650"/>
<path d="M95.16,114.3 V139.4" stroke="#222"/>
<rect x="94.06" y="123.5" width="2.2" height="15.4" fill="#ee4323"/>
<path d="M99.20,130.2 V147.1" stroke="#222"/>
<rect x="98.10" y="133.8" width="2.2" height="5.1" fill="#00a650"/>
<path d="M103.24,125.1 V153.7" stroke="#222"/>
<rect x="102.14" y="133.8" width="2.2" height="16.3" fill="#ee4323"/>
<path d="M107.28,126.1 V154.7" stroke="#222"/>
<rect x="106.18" y="137.3" width="2.2" height="12.8" fill="#00a650"/>
<path d="M111.32,128.6 V147.6" stroke="#222"/>
<rect x="110.22" y="131.7" width="2.2" height="6.2" fill="#00a650"/>
<path d="M115.36,130.2 V145.0" stroke="#222"/>
<rect x="114.26" y="131.2" width="2.2" height="6.1" fill="#ee4323"/>
<path d="M119.40,129.2 V147.6" stroke="#222"/>
<rect x="118.30" y="137.3" width="2.2" height="10.3" fill="#ee4323"/>
<path d="M123.44,131.2 V156.8" stroke="#222"/>
<rect x="122.34" y="131.7" width="2.2" height="15.4" fill="#00a650"/>
<path d="M127.48,129.7 V152.7" stroke="#222"/>
<rect x="126.38" y="131.2" width="2.2" height="21.0" fill="#ee4323"/>
<path d="M131.52,145.0 V157.8" stroke="#222"/>
<path d="M129.92,149.3 H133.12"/>
<path d="M135.56,144.0 V166.5" stroke="#222"/>
<rect x="134.46" y="149.6" width="2.2" height="5.6" fill="#ee4323"/>
<path d="M139.60,142.4 V180.0" stroke="#222"/>
<rect x="138.50" y="155.5" width="2.2" height="23.9" fill="#ee4323"/>
<path d="M143.64,174.0 V201.5" stroke="#222"/>
<rect x="142.54" y="180.0" width="2.2" height="15.5" fill="#ee4323"/>
<path d="M147.68,190.1 V228.8" stroke="#222"/>
<rect x="146.58" y="195.6" width="2.2" height="32.5" fill="#ee4323"/>
<path d="M151.72,191.0 V228.0" stroke="#222"/>
<rect x="150.62" y="192.5" width="2.2" height="30.6" fill="#00a650"/>
<path d="M155.76,185.3 V209.6" stroke="#222"/>
<rect x="154.66" y="189.0" width="2.2" height="3.5" fill="#00a650"/>
<path d="M159.80,175.2 V194.3" stroke="#222"/>
<rect x="158.70" y="185.3" width="2.2" height="3.7" fill="#00a650"/>
<path d="M163.84,179.4 V202.6" stroke="#222"/>
<rect x="162.74" y="185.3" width="2.2" height="11.2" fill="#ee4323"/>
<path d="M167.88,192.5 V208.7" stroke="#222"/>
<rect x="166.78" y="197.0" width="2.2" height="9.3" fill="#ee4323"/>
<path d="M171.92,191.3 V207.5" stroke="#222"/>
<rect x="170.82" y="203.6" width="2.2" height="1.7" fill="#ee4323"/>
<path d="M175.96,205.0 V221.2" stroke="#222"/>
<rect x="174.86" y="205.3" width="2.2" height="14.6" fill="#ee4323"/>
<path d="M180.00,208.0 V224.5" stroke="#222"/>
<rect x="178.90" y="217.6" width="2.2" height="1.6" fill="#00a650"/>
<path d="M184.04,216.9 V236.9" stroke="#222"/>
<rect x="182.94" y="217.8" width="2.2" height="18.5" fill="#ee4323"/>
<path d="M188.08,215.0 V241.3" stroke="#222"/>
<rect x="186.98" y="220.0" width="2.2" height="15.6" fill="#00a650"/>
<path d="M192.12,210.2 V220.2" stroke="#222"/>
<rect x="191.02" y="215.4" width="2.2" height="2.6" fill="#00a650"/>
<path d="M196.16,201.3 V231.9" stroke="#222"/>
<rect x="195.06" y="215.6" width="2.2" height="10.7" fill="#ee4323"/>
<path d="M200.20,215.6 V236.3" stroke="#222"/>
<path d="M198.60,226.0 H201.80"/>
<path d="M204.24,225.0 V239.4" stroke="#222"/>
<rect x="203.14" y="225.6" width="2.2" height="3.4" fill="#ee4323"/>
<path d="M208.28,199.4 V235.6" stroke="#222"/>
<rect x="207.18" y="201.0" width="2.2" height="27.8" fill="#00a650"/>
<path d="M212.32,198.1 V215.0" stroke="#222"/>
<rect x="211.22" y="201.9" width="2.2" height="5.0" fill="#ee4323"/>
<path d="M216.36,200.0 V224.4" stroke="#222"/>
<rect x="215.26" y="207.3" width="2.2" height="16.2" fill="#ee4323"/>
<path d="M220.40,203.0 V224.4" stroke="#222"/>
<rect x="219.30" y="211.0" width="2.2" height="12.5" fill="#00a650"/>
<path d="M224.44,201.3 V223.1" stroke="#222"/>
<rect x="223.34" y="211.0" width="2.2" height="9.0" fill="#ee4323"/>
<path d="M228.48,210.0 V236.3" stroke="#222"/>
<rect x="227.38" y="220.0" width="2.2" height="16.3" fill="#ee4323"/>
<path d="M232.52,230.6 V261.3" stroke="#222"/>
<rect x="231.42" y="231.3" width="2.2" height="25.9" fill="#ee4323"/>
<path d="M236.56,253.0 V281.9" stroke="#222"/>
<rect x="235.46" y="257.4" width="2.2" height="11.8" fill="#ee4323"/>
<path d="M240.60,244.7 V277.5" stroke="#222"/>
<rect x="239.50" y="246.4" width="2.2" height="22.8" fill="#00a650"/>
<path d="M244.64,229.4 V251.9" stroke="#222"/>
<rect x="243.54" y="233.8" width="2.2" height="12.5" fill="#00a650"/>
<path d="M248.68,230.6 V245.0" stroke="#222"/>
<rect x="247.58" y="234.4" width="2.2" height="5.6" fill="#ee4323"/>
<path d="M252.72,217.5 V240.6" stroke="#222"/>
<rect x="251.62" y="221.5" width="2.2" height="13.5" fill="#00a650"/>
<path d="M256.76,202.5 V233.0" stroke="#222"/>
<rect x="255.66" y="207.5" width="2.2" height="13.8" fill="#00a650"/>
<path d="M260.80,198.2 V213.6" stroke="#222"/>
<rect x="259.70" y="201.7" width="2.2" height="5.2" fill="#00a650"/>
<path d="M264.84,180.0 V202.5" stroke="#222"/>
<rect x="263.74" y="186.0" width="2.2" height="15.9" fill="#00a650"/>
<path d="M268.88,180.0 V203.0" stroke="#222"/>
<rect x="267.78" y="186.0" width="2.2" height="15.3" fill="#ee4323"/>
<path d="M272.92,192.5 V207.5" stroke="#222"/>
<rect x="271.82" y="201.3" width="2.2" height="6.0" fill="#ee4323"/>
<path d="M276.96,191.0 V207.5" stroke="#222"/>
<rect x="275.86" y="197.5" width="2.2" height="9.8" fill="#00a650"/>
<path d="M281.00,186.3 V204.0" stroke="#222"/>
<rect x="279.90" y="197.5" width="2.2" height="6.0" fill="#ee4323"/>
<path d="M285.04,188.8 V206.9" stroke="#222"/>
<rect x="283.94" y="194.4" width="2.2" height="9.1" fill="#00a650"/>
<path d="M289.08,192.5 V209.4" stroke="#222"/>
<rect x="287.98" y="194.4" width="2.2" height="14.1" fill="#ee4323"/>
<path d="M293.12,202.5 V214.8" stroke="#222"/>
<rect x="292.02" y="205.3" width="2.2" height="9.1" fill="#ee4323"/>
<path d="M297.16,207.8 V217.5" stroke="#222"/>
<rect x="296.06" y="214.4" width="2.2" height="2.1" fill="#ee4323"/>
<path d="M301.20,204.4 V224.0" stroke="#222"/>
<rect x="300.10" y="210.6" width="2.2" height="5.7" fill="#00a650"/>
<path d="M305.24,206.3 V226.3" stroke="#222"/>
<rect x="304.14" y="210.6" width="2.2" height="13.4" fill="#ee4323"/>
<path d="M309.28,206.9 V226.5" stroke="#222"/>
<rect x="308.18" y="209.8" width="2.2" height="14.2" fill="#00a650"/>
<path d="M313.32,206.5 V217.5" stroke="#222"/>
<rect x="312.22" y="212.5" width="2.2" height="2.8" fill="#ee4323"/>
<path d="M317.36,215.0 V243.0" stroke="#222"/>
<rect x="316.26" y="215.3" width="2.2" height="26.0" fill="#ee4323"/>
<path d="M321.40,229.0 V243.5" stroke="#222"/>
<rect x="320.30" y="237.8" width="2.2" height="3.5" fill="#00a650"/>
<path d="M325.44,236.9 V267.5" stroke="#222"/>
<rect x="324.34" y="237.5" width="2.2" height="29.8" fill="#ee4323"/>
<path d="M329.48,265.3 V274.4" stroke="#222"/>
<rect x="328.38" y="267.3" width="2.2" height="1.7" fill="#ee4323"/>
<path d="M333.52,243.0 V271.9" stroke="#222"/>
<rect x="332.42" y="248.1" width="2.2" height="20.9" fill="#00a650"/>
<path d="M337.56,239.4 V251.5" stroke="#222"/>
<rect x="336.46" y="243.5" width="2.2" height="4.5" fill="#00a650"/>
<path d="M341.60,234.0 V250.6" stroke="#222"/>
<rect x="340.50" y="235.0" width="2.2" height="8.5" fill="#00a650"/>
<path d="M345.64,233.8 V252.5" stroke="#222"/>
<rect x="344.54" y="235.0" width="2.2" height="15.4" fill="#ee4323"/>
<path d="M349.68,230.6 V255.0" stroke="#222"/>
<rect x="348.58" y="236.5" width="2.2" height="13.9" fill="#00a650"/>
<path d="M353.72,231.9 V241.3" stroke="#222"/>
<path d="M352.12,235.9 H355.32"/>
<path d="M357.76,224.0 V239.4" stroke="#222"/>
<rect x="356.66" y="236.0" width="2.2" height="1.3" fill="#ee4323"/>
<path d="M361.80,226.3 V242.5" stroke="#222"/>
<rect x="360.70" y="233.5" width="2.2" height="3.8" fill="#00a650"/>
<path d="M365.84,215.6 V233.8" stroke="#222"/>
<rect x="364.74" y="217.5" width="2.2" height="15.7" fill="#00a650"/>
<path d="M369.88,202.8 V223.0" stroke="#222"/>
<path d="M368.28,217.2 H371.48"/>
<path d="M373.92,208.8 V220.0" stroke="#222"/>
<rect x="372.82" y="210.0" width="2.2" height="6.9" fill="#ee4323"/>
<path d="M377.96,211.3 V232.5" stroke="#222"/>
<rect x="376.86" y="217.3" width="2.2" height="12.1" fill="#ee4323"/>
<path d="M382.00,228.0 V243.0" stroke="#222"/>
<rect x="380.90" y="229.4" width="2.2" height="3.1" fill="#ee4323"/>
<path d="M386.04,210.0 V236.9" stroke="#222"/>
<rect x="384.94" y="217.3" width="2.2" height="15.2" fill="#00a650"/>
<path d="M390.08,203.5 V223.0" stroke="#222"/>
<rect x="388.98" y="217.3" width="2.2" height="5.5" fill="#ee4323"/>
<path d="M394.12,213.0 V225.6" stroke="#222"/>
<rect x="393.02" y="214.0" width="2.2" height="3.3" fill="#ee4323"/>
<path d="M398.16,197.8 V224.4" stroke="#222"/>
<rect x="397.06" y="217.8" width="2.2" height="5.7" fill="#ee4323"/>
<path d="M402.20,212.3 V226.9" stroke="#222"/>
<rect x="401.10" y="218.0" width="2.2" height="5.5" fill="#00a650"/>
<path d="M406.24,213.0 V233.8" stroke="#222"/>
<rect x="405.14" y="218.0" width="2.2" height="12.3" fill="#ee4323"/>
<path d="M410.28,223.0 V244.0" stroke="#222"/>
<rect x="409.18" y="230.3" width="2.2" height="12.7" fill="#ee4323"/>
<path d="M414.32,238.0 V264.4" stroke="#222"/>
<rect x="413.22" y="238.8" width="2.2" height="25.2" fill="#ee4323"/>
<path d="M418.36,252.3 V264.4" stroke="#222"/>
<rect x="417.26" y="261.5" width="2.2" height="2.5" fill="#00a650"/>
<path d="M422.40,253.0 V272.5" stroke="#222"/>
<rect x="421.30" y="261.5" width="2.2" height="10.8" fill="#ee4323"/>
<path d="M426.44,238.0 V272.5" stroke="#222"/>
<rect x="425.34" y="245.6" width="2.2" height="26.7" fill="#00a650"/>
<path d="M430.48,241.9 V262.5" stroke="#222"/>
<rect x="429.38" y="245.6" width="2.2" height="13.2" fill="#ee4323"/>
<path d="M434.52,243.8 V260.0" stroke="#222"/>
<rect x="433.42" y="251.3" width="2.2" height="7.7" fill="#00a650"/>
<path d="M438.56,246.9 V294.4" stroke="#222"/>
<rect x="437.46" y="251.3" width="2.2" height="41.7" fill="#ee4323"/>
<path d="M442.60,287.5 V321.3" stroke="#222"/>
<rect x="441.50" y="293.0" width="2.2" height="26.0" fill="#ee4323"/>
<path d="M446.64,296.3 V320.0" stroke="#222"/>
<rect x="445.54" y="307.5" width="2.2" height="11.5" fill="#00a650"/>
<path d="M450.68,281.9 V316.3" stroke="#222"/>
<rect x="449.58" y="289.4" width="2.2" height="18.1" fill="#00a650"/>
<path d="M454.72,265.6 V291.3" stroke="#222"/>
<rect x="453.62" y="275.3" width="2.2" height="15.0" fill="#00a650"/>
<path d="M458.76,263.8 V278.0" stroke="#222"/>
<rect x="457.66" y="270.0" width="2.2" height="5.0" fill="#00a650"/>
<path d="M462.80,268.0 V288.8" stroke="#222"/>
<rect x="461.70" y="270.0" width="2.2" height="10.3" fill="#ee4323"/>
<path d="M466.84,266.3 V282.5" stroke="#222"/>
<rect x="465.74" y="272.8" width="2.2" height="7.5" fill="#00a650"/>
<path d="M470.88,261.3 V278.8" stroke="#222"/>
<path d="M469.28,272.8 H472.48"/>
<path d="M474.92,257.3 V278.0" stroke="#222"/>
<rect x="473.82" y="265.6" width="2.2" height="11.3" fill="#ee4323"/>
<path d="M478.96,266.3 V282.5" stroke="#222"/>
<rect x="477.86" y="276.9" width="2.2" height="1.9" fill="#ee4323"/>
<path d="M483.00,259.4 V280.6" stroke="#222"/>
<rect x="481.90" y="261.0" width="2.2" height="17.0" fill="#00a650"/>
<path d="M487.04,242.5 V261.3" stroke="#222"/>
<rect x="485.94" y="257.5" width="2.2" height="3.5" fill="#00a650"/>
<path d="M491.08,232.5 V258.0" stroke="#222"/>
<rect x="489.98" y="241.5" width="2.2" height="16.0" fill="#00a650"/>
<path d="M495.12,234.6 V247.8" stroke="#222"/>
<rect x="494.02" y="236.7" width="2.2" height="7.5" fill="#ee4323"/>
<path d="M499.16,217.5 V244.6" stroke="#222"/>
<rect x="498.06" y="227.5" width="2.2" height="16.7" fill="#00a650"/>
<path d="M503.20,217.3 V239.4" stroke="#222"/>
<rect x="502.10" y="219.6" width="2.2" height="7.8" fill="#00a650"/>
<path d="M507.24,217.5 V230.6" stroke="#222"/>
<rect x="506.14" y="219.6" width="2.2" height="7.5" fill="#ee4323"/>
<path d="M511.28,222.5 V253.5" stroke="#222"/>
<rect x="510.18" y="227.5" width="2.2" height="14.8" fill="#ee4323"/>
<path d="M515.32,228.0 V239.4" stroke="#222"/>
<path d="M513.72,234.8 H516.92"/>
<path d="M519.36,218.0 V235.0" stroke="#222"/>
<path d="M517.76,234.5 H520.96"/>
<path d="M523.40,230.6 V246.3" stroke="#222"/>
<rect x="522.30" y="234.8" width="2.2" height="5.8" fill="#ee4323"/>
<path d="M527.44,222.3 V243.8" stroke="#222"/>
<rect x="526.34" y="229.0" width="2.2" height="11.6" fill="#00a650"/>
<path d="M531.48,225.0 V257.5" stroke="#222"/>
<rect x="530.38" y="229.4" width="2.2" height="27.5" fill="#ee4323"/>
<path d="M535.52,252.5 V264.4" stroke="#222"/>
<rect x="534.42" y="253.5" width="2.2" height="7.0" fill="#ee4323"/>
<path d="M539.56,258.0 V273.0" stroke="#222"/>
<rect x="538.46" y="260.8" width="2.2" height="12.0" fill="#ee4323"/>
<path d="M543.60,253.0 V272.7" stroke="#222"/>
<rect x="542.50" y="254.2" width="2.2" height="18.2" fill="#00a650"/>
<path d="M547.64,251.3 V306.9" stroke="#222"/>
<rect x="546.54" y="254.6" width="2.2" height="45.2" fill="#ee4323"/>
<path d="M551.68,298.0 V318.8" stroke="#222"/>
<path d="M550.08,300.6 H553.28"/>
<path d="M555.72,280.6 V311.9" stroke="#222"/>
<rect x="554.62" y="284.4" width="2.2" height="20.0" fill="#00a650"/>
<path d="M559.76,274.0 V293.8" stroke="#222"/>
<rect x="558.66" y="284.4" width="2.2" height="1.4" fill="#ee4323"/>
<path d="M563.80,284.2 V325.0" stroke="#222"/>
<rect x="562.70" y="286.3" width="2.2" height="38.1" fill="#ee4323"/>
<path d="M567.84,317.4 V335.0" stroke="#222"/>
<rect x="566.74" y="324.8" width="2.2" height="9.6" fill="#ee4323"/>
<path d="M571.88,319.4 V336.3" stroke="#222"/>
<rect x="570.78" y="325.0" width="2.2" height="9.8" fill="#00a650"/>
<path d="M575.92,313.5 V323.8" stroke="#222"/>
<rect x="574.82" y="321.3" width="2.2" height="1.7" fill="#ee4323"/>
<path d="M579.96,307.5 V323.8" stroke="#222"/>
<rect x="578.86" y="318.8" width="2.2" height="4.2" fill="#00a650"/>
<path d="M584.00,302.3 V325.6" stroke="#222"/>
<rect x="582.90" y="303.5" width="2.2" height="14.5" fill="#00a650"/>
<path d="M588.04,297.3 V308.5" stroke="#222"/>
<path d="M586.44,303.0 H589.64"/>
<path d="M592.08,298.5 V322.5" stroke="#222"/>
<rect x="590.98" y="303.0" width="2.2" height="17.0" fill="#ee4323"/>
<path d="M596.12,311.9 V328.5" stroke="#222"/>
<rect x="595.02" y="312.5" width="2.2" height="14.0" fill="#ee4323"/>
<path d="M600.16,323.5 V338.8" stroke="#222"/>
<rect x="599.06" y="326.5" width="2.2" height="4.1" fill="#ee4323"/>
<path d="M604.20,328.5 V345.3" stroke="#222"/>
<rect x="603.10" y="331.3" width="2.2" height="13.7" fill="#ee4323"/>
<path d="M608.24,337.5 V348.0" stroke="#222"/>
<path d="M606.64,345.0 H609.84"/>
<path d="M612.28,335.0 V354.4" stroke="#222"/>
<rect x="611.18" y="341.0" width="2.2" height="4.0" fill="#00a650"/>
<path d="M616.32,335.0 V352.5" stroke="#222"/>
<rect x="615.22" y="341.3" width="2.2" height="5.2" fill="#ee4323"/>
<path d="M620.36,333.0 V375.6" stroke="#222"/>
<rect x="619.26" y="346.9" width="2.2" height="3.7" fill="#ee4323"/>
<path d="M624.40,337.5 V359.4" stroke="#222"/>
<rect x="623.30" y="350.6" width="2.2" height="8.2" fill="#ee4323"/>
<path d="M628.44,342.3 V358.8" stroke="#222"/>
<rect x="627.34" y="351.5" width="2.2" height="6.5" fill="#00a650"/>
<path d="M632.48,348.5 V376.9" stroke="#222"/>
<rect x="631.38" y="351.5" width="2.2" height="24.8" fill="#ee4323"/>
<path d="M636.52,354.4 V370.6" stroke="#222"/>
<rect x="635.42" y="360.6" width="2.2" height="5.7" fill="#00a650"/>
<path d="M640.56,353.5 V371.5" stroke="#222"/>
<rect x="639.46" y="360.6" width="2.2" height="3.8" fill="#ee4323"/>
<path d="M644.60,360.6 V383.0" stroke="#222"/>
<rect x="643.50" y="364.4" width="2.2" height="10.0" fill="#ee4323"/>
<path d="M648.64,369.8 V381.9" stroke="#222"/>
<rect x="647.54" y="370.3" width="2.2" height="4.1" fill="#00a650"/>
<path d="M652.68,356.9 V377.5" stroke="#222"/>
<rect x="651.58" y="358.0" width="2.2" height="12.3" fill="#00a650"/>
<path d="M656.72,358.5 V373.8" stroke="#222"/>
<rect x="655.62" y="365.6" width="2.2" height="7.4" fill="#ee4323"/>
<path d="M660.76,361.3 V376.9" stroke="#222"/>
<rect x="659.66" y="369.8" width="2.2" height="4.0" fill="#00a650"/>
<path d="M664.80,355.0 V381.9" stroke="#222"/>
<rect x="663.70" y="362.5" width="2.2" height="6.5" fill="#00a650"/>
<path d="M668.84,332.3 V363.0" stroke="#222"/>
<rect x="667.74" y="346.5" width="2.2" height="16.0" fill="#00a650"/>
<path d="M672.88,341.0 V367.5" stroke="#222"/>
<rect x="671.78" y="346.5" width="2.2" height="20.8" fill="#ee4323"/>
<path d="M676.92,363.8 V381.3" stroke="#222"/>
<rect x="675.82" y="364.4" width="2.2" height="9.1" fill="#ee4323"/>
<path d="M680.96,357.5 V375.0" stroke="#222"/>
<rect x="679.86" y="361.3" width="2.2" height="12.5" fill="#00a650"/>
<path d="M685.00,335.0 V364.4" stroke="#222"/>
<rect x="683.90" y="337.8" width="2.2" height="22.8" fill="#00a650"/>
<path d="M689.04,316.3 V338.8" stroke="#222"/>
<rect x="687.94" y="326.3" width="2.2" height="11.7" fill="#00a650"/>
<path d="M693.08,320.6 V329.8" stroke="#222"/>
<path d="M691.48,325.6 H694.68"/>
<path d="M697.12,314.4 V327.3" stroke="#222"/>
<rect x="696.02" y="315.3" width="2.2" height="11.0" fill="#00a650"/>
<path d="M701.16,310.0 V321.3" stroke="#222"/>
<rect x="700.06" y="315.6" width="2.2" height="5.0" fill="#ee4323"/>
<path d="M705.20,300.6 V322.5" stroke="#222"/>
<rect x="704.10" y="303.0" width="2.2" height="17.0" fill="#00a650"/>
<path d="M709.24,295.0 V311.3" stroke="#222"/>
<rect x="708.14" y="301.3" width="2.2" height="2.2" fill="#00a650"/>
<path d="M713.28,288.0 V308.8" stroke="#222"/>
<rect x="712.18" y="295.0" width="2.2" height="6.3" fill="#00a650"/>
<path d="M717.32,291.9 V316.9" stroke="#222"/>
<rect x="716.22" y="292.5" width="2.2" height="13.8" fill="#ee4323"/>
<path d="M721.36,286.0 V310.0" stroke="#222"/>
<rect x="720.26" y="293.8" width="2.2" height="13.7" fill="#00a650"/>
<path d="M725.40,276.3 V294.4" stroke="#222"/>
<rect x="724.30" y="287.5" width="2.2" height="6.3" fill="#00a650"/>
<path d="M729.44,286.3 V301.9" stroke="#222"/>
<rect x="728.34" y="287.5" width="2.2" height="4.8" fill="#ee4323"/>
<path d="M733.48,276.3 V292.8" stroke="#222"/>
<rect x="732.38" y="279.8" width="2.2" height="12.5" fill="#00a650"/>
<path d="M737.52,275.0 V291.3" stroke="#222"/>
<rect x="736.42" y="279.0" width="2.2" height="2.5" fill="#ee4323"/>
<path d="M741.56,266.0 V284.4" stroke="#222"/>
<rect x="740.46" y="266.5" width="2.2" height="15.4" fill="#00a650"/>
<path d="M745.60,247.3 V269.8" stroke="#222"/>
<rect x="744.50" y="251.0" width="2.2" height="15.5" fill="#00a650"/>
<path d="M749.64,238.8 V251.3" stroke="#222"/>
<rect x="748.54" y="249.8" width="2.2" height="1.2" fill="#00a650"/>
<path d="M753.68,240.0 V261.5" stroke="#222"/>
<rect x="752.58" y="249.8" width="2.2" height="6.5" fill="#ee4323"/>
<path d="M757.72,253.0 V265.0" stroke="#222"/>
<rect x="756.62" y="256.9" width="2.2" height="7.9" fill="#ee4323"/>
<path d="M761.76,260.3 V281.9" stroke="#222"/>
<rect x="760.66" y="264.8" width="2.2" height="12.5" fill="#ee4323"/>
<path d="M765.80,263.5 V277.5" stroke="#222"/>
<rect x="764.70" y="272.5" width="2.2" height="4.8" fill="#00a650"/>
<path d="M769.84,260.0 V276.3" stroke="#222"/>
<rect x="768.74" y="272.5" width="2.2" height="3.5" fill="#ee4323"/>
<path d="M773.88,275.0 V287.5" stroke="#222"/>
<rect x="772.78" y="275.6" width="2.2" height="11.7" fill="#ee4323"/>
<path d="M777.92,284.4 V315.0" stroke="#222"/>
<rect x="776.82" y="287.3" width="2.2" height="16.7" fill="#ee4323"/>
<path d="M781.96,296.3 V315.6" stroke="#222"/>
<path d="M780.36,303.5 H783.56"/>
<path d="M786.00,294.2 V313.4" stroke="#222"/>
<rect x="784.90" y="303.6" width="2.2" height="7.0" fill="#ee4323"/>
<path d="M790.04,309.0 V335.0" stroke="#222"/>
<rect x="788.94" y="311.0" width="2.2" height="19.0" fill="#ee4323"/>
<path d="M794.08,317.5 V333.0" stroke="#222"/>
<path d="M792.48,330.0 H795.68"/>
<path d="M798.12,310.6 V328.0" stroke="#222"/>
<rect x="797.02" y="315.2" width="2.2" height="10.4" fill="#00a650"/>
<path d="M802.16,293.6 V316.9" stroke="#222"/>
<rect x="801.06" y="295.4" width="2.2" height="19.6" fill="#00a650"/>
<path d="M806.20,280.8 V296.2" stroke="#222"/>
<rect x="805.10" y="282.1" width="2.2" height="13.3" fill="#00a650"/>
<path d="M810.24,268.2 V290.3" stroke="#222"/>
<rect x="809.14" y="277.4" width="2.2" height="4.9" fill="#00a650"/>
<path d="M814.28,271.9 V298.0" stroke="#222"/>
<rect x="813.18" y="277.4" width="2.2" height="20.1" fill="#ee4323"/>
<path d="M818.32,286.9 V301.9" stroke="#222"/>
<rect x="817.22" y="287.6" width="2.2" height="3.6" fill="#ee4323"/>
<path d="M822.36,284.4 V297.5" stroke="#222"/>
<rect x="821.26" y="290.0" width="2.2" height="1.0" fill="#00a650"/>
<path d="M826.40,278.0 V292.6" stroke="#222"/>
<rect x="825.30" y="289.6" width="2.2" height="2.5" fill="#ee4323"/>
<path d="M830.44,264.8 V293.0" stroke="#222"/>
<rect x="829.34" y="286.0" width="2.2" height="6.1" fill="#00a650"/>
<path d="M834.48,273.0 V299.4" stroke="#222"/>
<rect x="833.38" y="286.0" width="2.2" height="6.4" fill="#ee4323"/>
<path d="M838.52,283.0 V300.6" stroke="#222"/>
<rect x="837.42" y="287.5" width="2.2" height="7.8" fill="#ee4323"/>
<path d="M842.56,284.4 V302.5" stroke="#222"/>
<rect x="841.46" y="291.9" width="2.2" height="3.4" fill="#00a650"/>
<path d="M846.60,275.0 V292.3" stroke="#222"/>
<rect x="845.50" y="280.0" width="2.2" height="11.5" fill="#00a650"/>
<path d="M850.64,266.3 V285.6" stroke="#222"/>
<rect x="849.54" y="272.5" width="2.2" height="7.3" fill="#00a650"/>
<path d="M854.68,265.0 V278.8" stroke="#222"/>
<rect x="853.58" y="272.8" width="2.2" height="5.2" fill="#ee4323"/>
<path d="M858.72,266.0 V278.8" stroke="#222"/>
<path d="M857.12,276.3 H860.32"/>
<path d="M862.76,274.4 V289.8" stroke="#222"/>
<rect x="861.66" y="275.6" width="2.2" height="3.4" fill="#ee4323"/>
<path d="M866.80,270.6 V290.0" stroke="#222"/>
<rect x="865.70" y="279.8" width="2.2" height="9.6" fill="#ee4323"/>
<path d="M870.84,288.5 V356.3" stroke="#222"/>
<rect x="869.74" y="289.4" width="2.2" height="42.1" fill="#ee4323"/>
<path d="M874.88,316.2 V332.4" stroke="#222"/>
<rect x="873.78" y="323.9" width="2.2" height="7.6" fill="#00a650"/>
<path d="M878.92,317.9 V346.9" stroke="#222"/>
<rect x="877.82" y="323.5" width="2.2" height="20.5" fill="#00a650"/>
<path d="M882.96,316.2 V348.0" stroke="#222"/>
<rect x="881.86" y="323.5" width="2.2" height="23.8" fill="#ee4323"/>
<path d="M887.00,323.0 V356.3" stroke="#222"/>
<rect x="885.90" y="323.8" width="2.2" height="23.5" fill="#00a650"/>
<path d="M891.04,321.3 V344.4" stroke="#222"/>
<rect x="889.94" y="323.8" width="2.2" height="14.4" fill="#ee4323"/>
<path d="M895.08,337.8 V377.5" stroke="#222"/>
<rect x="893.98" y="338.5" width="2.2" height="33.4" fill="#ee4323"/>
<path d="M899.12,366.3 V399.4" stroke="#222"/>
<rect x="898.02" y="371.9" width="2.2" height="26.9" fill="#ee4323"/>
<path d="M903.16,389.4 V403.8" stroke="#222"/>
<rect x="902.06" y="399.8" width="2.2" height="1.2" fill="#ee4323"/>
<path d="M907.20,378.0 V401.9" stroke="#222"/>
<rect x="906.10" y="381.5" width="2.2" height="19.5" fill="#00a650"/>
<path d="M911.24,376.9 V404.4" stroke="#222"/>
<rect x="910.14" y="381.5" width="2.2" height="22.5" fill="#ee4323"/>
<path d="M915.28,394.4 V417.5" stroke="#222"/>
<rect x="914.18" y="404.4" width="2.2" height="11.2" fill="#ee4323"/>
<path d="M919.32,405.6 V425.0" stroke="#222"/>
<rect x="918.22" y="413.0" width="2.2" height="11.4" fill="#ee4323"/>
<path d="M923.36,403.0 V424.8" stroke="#222"/>
<rect x="922.26" y="414.8" width="2.2" height="9.6" fill="#00a650"/>
<path d="M927.40,386.2 V415.0" stroke="#222"/>
<rect x="926.30" y="387.8" width="2.2" height="26.6" fill="#00a650"/>
<path d="M931.44,372.5 V402.5" stroke="#222"/>
<path d="M929.84,387.8 H933.04"/>
<path d="M935.48,376.3 V396.6" stroke="#222"/>
<rect x="934.38" y="380.6" width="2.2" height="7.2" fill="#00a650"/>
<path d="M939.52,373.0 V392.6" stroke="#222"/>
<rect x="938.42" y="381.5" width="2.2" height="3.3" fill="#ee4323"/>
<path d="M943.56,357.3 V394.4" stroke="#222"/>
<rect x="942.46" y="359.4" width="2.2" height="25.4" fill="#00a650"/>
<path d="M947.60,351.3 V380.6" stroke="#222"/>
<rect x="946.50" y="359.8" width="2.2" height="14.2" fill="#ee4323"/>
<path d="M951.64,371.9 V385.0" stroke="#222"/>
<rect x="950.54" y="374.6" width="2.2" height="3.6" fill="#ee4323"/>
<path d="M955.68,369.4 V384.4" stroke="#222"/>
<path d="M954.08,378.9 H957.28"/>
<path d="M959.72,380.0 V407.5" stroke="#222"/>
<rect x="958.62" y="380.6" width="2.2" height="21.9" fill="#ee4323"/>
<path d="M963.76,385.0 V411.3" stroke="#222"/>
<path d="M962.16,402.5 H965.36"/>
<path d="M967.80,380.0 V403.0" stroke="#222"/>
<rect x="966.70" y="391.9" width="2.2" height="10.6" fill="#00a650"/>
<path d="M971.84,381.3 V397.5" stroke="#222"/>
<rect x="970.74" y="390.6" width="2.2" height="1.3" fill="#00a650"/>
<path d="M975.88,387.5 V402.5" stroke="#222"/>
<rect x="974.78" y="390.6" width="2.2" height="5.7" fill="#ee4323"/>
<path d="M979.92,391.3 V401.3" stroke="#222"/>
<rect x="978.82" y="397.5" width="2.2" height="1.9" fill="#00a650"/>
<path d="M983.96,383.8 V408.0" stroke="#222"/>
<rect x="982.86" y="397.8" width="2.2" height="9.7" fill="#ee4323"/>
<path d="M988.00,398.5 V412.5" stroke="#222"/>
<path d="M986.40,407.8 H989.60"/>
<path d="M992.04,399.4 V410.0" stroke="#222"/>
<rect x="990.94" y="406.5" width="2.2" height="1.5" fill="#00a650"/>
<path d="M996.08,405.6 V428.8" stroke="#222"/>
<rect x="994.98" y="406.5" width="2.2" height="9.8" fill="#ee4323"/>
<path d="M1000.12,411.3 V426.3" stroke="#222"/>
<rect x="999.02" y="414.8" width="2.2" height="2.7" fill="#ee4323"/>
<path d="M1004.16,412.3 V425.3" stroke="#222"/>
<rect x="1003.06" y="417.8" width="2.2" height="7.0" fill="#ee4323"/>
<path d="M1008.20,395.3 V430.6" stroke="#222"/>
<rect x="1007.10" y="396.0" width="2.2" height="28.8" fill="#00a650"/>
<path d="M1012.24,388.5 V415.6" stroke="#222"/>
<rect x="1011.14" y="396.3" width="2.2" height="9.7" fill="#ee4323"/>
<path d="M1016.28,406.3 V412.5" stroke="#222"/>
<path d="M1014.68,409.8 H1017.88"/>
<path d="M1020.32,409.4 V425.6" stroke="#222"/>
<rect x="1019.22" y="412.5" width="2.2" height="12.5" fill="#ee4323"/>
<path d="M1024.36,415.0 V428.8" stroke="#222"/>
<rect x="1023.26" y="425.6" width="2.2" height="1.9" fill="#ee4323"/>
<path d="M1028.40,407.3 V428.0" stroke="#222"/>
<rect x="1027.30" y="407.9" width="2.2" height="19.6" fill="#00a650"/>
<path d="M1032.44,402.0 V418.5" stroke="#222"/>
<rect x="1031.34" y="408.6" width="2.2" height="9.5" fill="#ee4323"/>
<path d="M1036.48,416.9 V469.2" stroke="#222"/>
<rect x="1035.38" y="417.9" width="2.2" height="50.7" fill="#ee4323"/>
<path d="M1040.52,459.2 V499.4" stroke="#222"/>
<rect x="1039.42" y="459.6" width="2.2" height="30.9" fill="#ee4323"/>
<path d="M1044.56,481.5 V524.3" stroke="#222"/>
<rect x="1043.46" y="490.5" width="2.2" height="33.2" fill="#ee4323"/>
</g>
<path d="M94,110.5 q1.4,-1.4 2.8,0" fill="none" stroke="#ee4323" stroke-width="1.3"/>
<path d="M1043,527.6 q1.4,1.4 2.8,0" fill="none" stroke="#ee4323" stroke-width="1.3"/>
<g font-family="'Liberation Sans', sans-serif" font-size="12" fill="#666">
<text x="1119" y="80.3" textLength="44" lengthAdjust="spacingAndGlyphs">1.44000</text>
<text x="1119" y="130.1" textLength="44" lengthAdjust="spacingAndGlyphs">1.42000</text>
<text x="1119" y="179.7" textLength="44" lengthAdjust="spacingAndGlyphs">1.40000</text>
<text x="1119" y="229.3" textLength="44" lengthAdjust="spacingAndGlyphs">1.38000</text>
<text x="1119" y="279.3" textLength="44" lengthAdjust="spacingAndGlyphs">1.36000</text>
<text x="1119" y="378.9" textLength="44" lengthAdjust="spacingAndGlyphs">1.32000</text>
<text x="1119" y="478.6" textLength="44" lengthAdjust="spacingAndGlyphs">1.28000</text>
<text x="1119" y="586.1" textLength="28.5" lengthAdjust="spacingAndGlyphs">400K</text>
<text x="1119" y="664.8" textLength="14.5" lengthAdjust="spacingAndGlyphs">0K</text>
<text x="95.2" y="685.2" text-anchor="middle" textLength="36.4" lengthAdjust="spacingAndGlyphs">Jun '21</text>
<text x="183.4" y="685.2" text-anchor="middle" textLength="32" lengthAdjust="spacingAndGlyphs">Jul '21</text>
<text x="272.4" y="685.2" text-anchor="middle" textLength="40" lengthAdjust="spacingAndGlyphs">Aug '21</text>
<text x="361.3" y="685.2" text-anchor="middle" textLength="38.5" lengthAdjust="spacingAndGlyphs">Sep '21</text>
<text x="449.5" y="685.2" text-anchor="middle" textLength="38" lengthAdjust="spacingAndGlyphs">Oct '21</text>
<text x="535.2" y="685.2" text-anchor="middle" textLength="40" lengthAdjust="spacingAndGlyphs">Nov '21</text>
<text x="624.2" y="685.2" text-anchor="middle" textLength="39.1" lengthAdjust="spacingAndGlyphs">Dec '21</text>
<text x="716.8" y="685.2" text-anchor="middle" textLength="37.6" lengthAdjust="spacingAndGlyphs">Jan '22</text>
<text x="801.5" y="685.2" text-anchor="middle" textLength="40.1" lengthAdjust="spacingAndGlyphs">Feb '22</text>
<text x="882.6" y="685.2" text-anchor="middle" textLength="41.6" lengthAdjust="spacingAndGlyphs">Mar '22</text>
<text x="975.3" y="685.2" text-anchor="middle" textLength="39.6" lengthAdjust="spacingAndGlyphs">Apr '22</text>
<text x="1064.3" y="685.2" text-anchor="middle" textLength="43.1" lengthAdjust="spacingAndGlyphs">May '22</text>
</g>
<path d="M1106.8,299.5 L1113.8,289.1 H1167.3 V309.9 H1113.8 Z" fill="#111"/>
<text x="1118.8" y="303.4" font-family="'Liberation Sans', sans-serif" font-weight="bold" font-size="12" fill="#fff" textLength="44" lengthAdjust="spacingAndGlyphs">1.35017</text>
<path d="M1106.8,323.7 L1113.8,313.3 H1167.3 V334.1 H1113.8 Z" fill="#111"/>
<text x="1118.8" y="327.6" font-family="'Liberation Sans', sans-serif" font-weight="bold" font-size="12" fill="#fff" textLength="44" lengthAdjust="spacingAndGlyphs">1.34051</text>
<path d="M1106.8,391.5 L1113.8,381.1 H1167.3 V401.9 H1113.8 Z" fill="#ee4323"/>
<text x="1118.8" y="395.4" font-family="'Liberation Sans', sans-serif" font-weight="bold" font-size="12" fill="#fff" textLength="44" lengthAdjust="spacingAndGlyphs">1.31319</text>
<path d="M1106.8,424.6 L1113.8,414.2 H1167.3 V435.0 H1113.8 Z" fill="#111"/>
<text x="1118.8" y="428.5" font-family="'Liberation Sans', sans-serif" font-weight="bold" font-size="12" fill="#fff" textLength="44" lengthAdjust="spacingAndGlyphs">1.30000</text>
<path d="M1106.8,523.5 L1113.8,513.1 H1167.3 V533.9 H1113.8 Z" fill="#ee4323"/>
<text x="1118.8" y="527.4" font-family="'Liberation Sans', sans-serif" font-weight="bold" font-size="12" fill="#fff" textLength="44" lengthAdjust="spacingAndGlyphs">1.26027</text>
<path d="M1106.8,614.8 L1113.8,604.4 H1150.6 V625.2 H1113.8 Z" fill="#ee4323"/>
<text x="1118.8" y="618.7" font-family="'Liberation Sans', sans-serif" font-weight="bold" font-size="12" fill="#fff" textLength="28" lengthAdjust="spacingAndGlyphs">234K</text>
<g fill="none" stroke="#111" stroke-width="1.1">
<path d="M18,71.5 H23.6 M28.2,71.5 H33.8"/><circle cx="25.9" cy="71.5" r="1.8" fill="#fff"/>
<path d="M20.7,98 L19,105.8"/><circle cx="21.2" cy="96" r="1.9" fill="#fff"/><circle cx="18.5" cy="107.8" r="1.9" fill="#fff"/>
<path d="M25,96.7 H35.2 M25,100.4 H35.2 M25,104.1 H35.2 M25,107.8 H35.2" stroke-width="1" stroke="#333"/>
<path d="M25.9,125.4 Q31.2,127.2 33.3,132 Q31.2,136.9 25.9,138.7 Q20.4,136.9 18.2,132 Q20.4,127.2 25.9,125.4 Z"/>
<circle cx="25.9" cy="125.4" r="1.9" fill="#fff"/>
<circle cx="25.9" cy="138.7" r="1.9" fill="#fff"/>
<circle cx="18.2" cy="132" r="1.9" fill="#fff"/>
<circle cx="33.3" cy="132" r="1.9" fill="#fff"/>
<path d="M22.1,151.7 H30.2 V159.7 H34.8 L26.2,169.8 L17.5,159.7 H22.1 Z" stroke-width="1.3" stroke-linejoin="miter"/>
<circle cx="25.8" cy="191.2" r="9.3" stroke-width="1.4"/>
<path d="M20.5,214.7 H35 M20.5,223.5 H31.3 M20.5,227.8 H35"/>
<circle cx="18.6" cy="214.7" r="1.8" fill="#fff"/>
<circle cx="18.6" cy="223.5" r="1.8" fill="#fff"/>
<circle cx="18.6" cy="227.8" r="1.8" fill="#fff"/>
<circle cx="33.2" cy="223.5" r="1.8" fill="#fff"/>
<path d="M26.2,216.2 V226.4 M24.6,218 L26.2,215.6 L27.8,218 M24.6,224.6 L26.2,227 L27.8,224.6" stroke-width="1"/>
<path d="M17.5,260.2 V250 A8.7,8.7 0 0 1 34.9,250 V260.2 H29.8 V250 A3.6,3.6 0 0 0 22.6,250 V260.2 Z M17.5,256 H22.6 M29.8,256 H34.9" stroke-width="1.3"/>
</g>
<text x="25.8" y="195.6" text-anchor="middle" font-family="'Liberation Sans', sans-serif" font-size="13" fill="#000" stroke="#000" stroke-width="0.3">1</text>
<g fill="none" stroke="#000" stroke-width="2.2" stroke-linejoin="miter">
<path d="M43.6,67.7 L47.6,71.4 L43.6,75.1"/>
<path d="M43.6,97.3 L47.6,101.0 L43.6,104.7"/>
<path d="M43.6,127.3 L47.6,131.0 L43.6,134.7"/>
<path d="M43.6,157.3 L47.6,161.0 L43.6,164.7"/>
<path d="M43.6,187.6 L47.6,191.3 L43.6,195.0"/>
<path d="M43.6,217.3 L47.6,221.0 L43.6,224.7"/>
</g>
</svg>
</body></html>
